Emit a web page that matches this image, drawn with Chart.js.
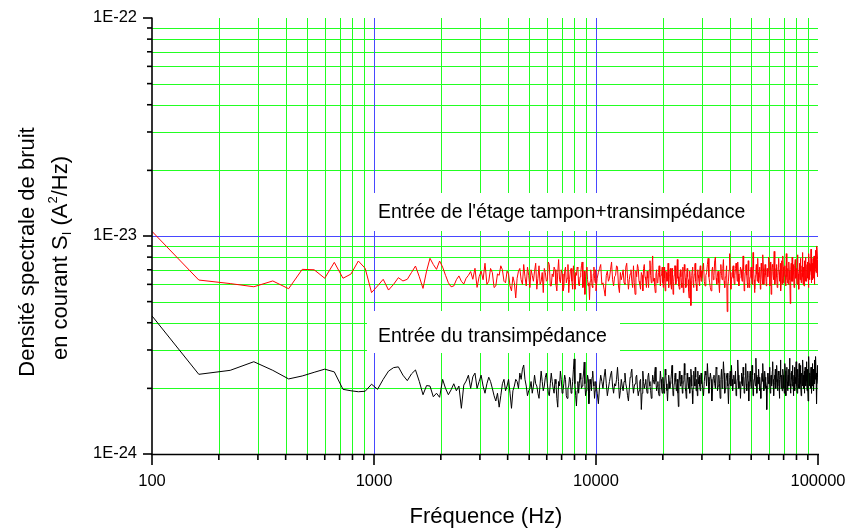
<!DOCTYPE html>
<html>
<head>
<meta charset="utf-8">
<script src="https://cdn.jsdelivr.net/npm/chart.js@4.4.1/dist/chart.umd.min.js"></script>
<style>
  html, body { margin: 0; padding: 0; background: #fff; }
  #c { display: block; }
</style>
</head>
<body>
<canvas id="c" width="849" height="529"></canvas>
<script>
// valeurs en unités de 1E-24 A²/Hz
const UNIT = 1e-24;
// grille de fréquence : 4 segments (début, pas en Hz)
const segStart = [100, 3037.5, 10000, 30000];
const segStep = [62.5, 62.5, 125, 250];

// Entrée de l'étage tampon+transimpédance (rouge)
const redA = [10.5, 6.28, 6.05, 5.85, 6.22, 5.73, 7.03, 7.0, 6.4, 7.57,
  6.4, 6.69, 7.68, 7.11, 5.5, 5.9, 6.33, 5.65, 6.0, 6.44,
  6.22, 6.33, 6.8, 7.28, 6.5, 5.75, 6.9, 7.9, 7.4, 7.03,
  7.68, 7.2, 6.6, 6.1, 5.85, 5.9, 6.3, 6.56, 6.2, 6.02,
  6.4, 6.6, 6.87, 6.33, 7.11, 5.81, 6.5];
const redB = [6.9, 6.3, 7.5, 6.0, 6.2, 7.1, 6.8, 5.8, 5.9, 6.7,
  6.6, 7.3, 7.0, 6.2, 6.1, 6.9, 6.7, 5.9, 5.6, 6.5,
  6.1, 5.2, 6.4, 6.9, 7.1, 6.3, 6.0, 7.4, 6.5, 5.9,
  7.2, 6.6, 5.8, 7.0, 6.6, 6.2, 6.9, 7.5, 5.7, 6.4,
  7.3, 6.0, 6.2, 6.8, 5.5, 7.1, 6.8, 6.2, 6.3, 7.6,
  7.4, 5.9, 5.9, 6.7, 6.5, 7.2, 7.0, 6.0, 5.6, 6.8,
  7.8, 6.3, 6.1, 7.0, 6.7, 5.6, 5.8, 6.9, 7.2, 6.1,
  6.4, 7.4, 5.5, 6.3, 6.9, 7.1, 6.2, 5.7, 7.3, 6.6,
  5.7, 6.8, 6.6, 7.2, 7.1, 6.0, 5.9, 6.5, 6.8, 7.3,
  7.6, 5.8, 6.0, 6.9, 5.4, 6.5, 6.9, 7.2, 6.3, 5.9,
  6.1, 5.1, 6.2, 7.0, 6.4, 5.9, 5.8, 6.7, 7.2, 6.4,
  6.1, 7.0];
const redC = [5.6, 6.4, 6.8, 7.1, 7.4, 6.0, 6.1, 5.7, 5.3, 6.6,
  6.9, 6.2, 6.4, 7.0, 7.6, 6.3, 5.9, 6.5, 6.6, 7.3,
  7.2, 5.9, 5.5, 6.8, 6.3, 6.6, 7.0, 6.1, 6.0, 7.2,
  7.5, 6.4, 5.7, 6.3, 6.7, 7.0, 6.2, 5.8, 7.3, 6.1,
  5.4, 6.9, 6.5, 7.4, 7.1, 6.2, 6.0, 5.7, 6.8, 6.6,
  5.6, 7.1, 7.4, 6.5, 6.3, 5.8, 6.9, 6.4, 5.8, 7.0,
  7.7, 6.6, 6.1, 7.3, 8.1, 6.2, 6.4, 5.9, 5.5, 6.7,
  7.0, 6.1, 6.2, 6.8, 7.3, 6.5, 5.9, 6.6, 6.7, 7.2,
  6.1, 5.8, 7.2, 6.4, 5.6, 6.9, 6.8, 6.2, 6.3, 7.5,
  5.8, 6.6, 6.9, 7.1, 6.0, 5.7, 7.1, 6.5, 5.4, 6.2,
  6.6, 7.3, 7.3, 6.0, 6.2, 6.9, 7.8, 6.4, 6.5, 5.9,
  5.7, 6.7, 7.0, 6.5, 6.1, 5.8, 6.8, 7.2, 5.5, 6.3,
  7.4, 6.9, 6.4, 5.8, 5.9, 6.7, 7.1, 6.5, 6.3, 5.6,
  5.2, 6.8, 6.9, 6.2, 4.8, 6.4, 6.6, 7.0, 7.2, 6.1,
  5.8, 6.3, 6.7, 7.4, 7.5, 6.2, 6.0, 5.7, 5.6, 6.8,
  7.0, 6.6, 6.4, 6.1, 5.9, 6.9, 7.3, 6.5, 6.2, 6.9];
const redD = [6.4, 7.0, 7.5, 6.2, 5.9, 6.6, 6.8, 7.4, 7.9, 6.5,
  6.1, 5.8, 5.6, 6.9, 7.2, 6.3, 6.6, 7.7, 8.0, 6.4,
  6.0, 6.7, 6.9, 6.1, 5.5, 6.8, 7.4, 6.6, 6.3, 7.1,
  7.8, 6.2, 5.8, 6.5, 6.7, 7.3, 4.5, 5.9, 6.2, 7.0,
  8.3, 6.8, 5.7, 6.3, 6.5, 7.1, 7.3, 6.4, 6.0, 6.6,
  7.1, 7.5, 6.9, 6.2, 7.6, 6.7, 5.9, 6.4, 6.6, 7.2,
  7.0, 6.5, 6.2, 6.9, 8.1, 7.0, 5.6, 6.1, 6.8, 7.3,
  7.4, 6.6, 6.1, 5.8, 7.7, 6.9, 5.8, 6.3, 6.5, 7.0,
  7.2, 6.4, 6.0, 6.7, 8.4, 7.1, 6.3, 5.5, 5.7, 6.6,
  7.0, 7.4, 6.7, 6.2, 7.9, 6.8, 6.1, 6.5, 6.9, 7.2,
  5.7, 6.3, 7.5, 6.9, 6.4, 6.0, 8.2, 7.1, 6.0, 6.5,
  6.8, 7.4, 7.3, 6.6, 5.9, 6.2, 7.1, 6.8, 6.5, 7.0,
  8.0, 6.9, 6.2, 5.9, 7.6, 7.0, 5.4, 6.3, 6.9, 7.4,
  7.2, 6.6, 6.3, 6.9, 8.5, 7.3, 6.0, 6.4, 6.7, 7.1,
  7.4, 6.5, 5.8, 6.2, 6.6, 7.2, 7.9, 6.8, 6.2, 6.6,
  7.0, 7.5, 5.6, 6.1, 7.7, 6.9, 6.4, 6.0, 8.1, 7.2,
  6.1, 6.5, 6.8, 7.0, 7.3, 6.6, 5.9, 6.3, 8.3, 7.4,
  6.5, 6.1, 7.1, 6.7, 6.0, 6.5, 7.6, 6.9, 6.3, 6.7,
  4.9, 6.3, 7.0, 7.5, 6.6, 6.2, 8.0, 7.1, 6.2, 6.7,
  7.4, 6.8, 5.8, 6.5, 6.9, 7.3, 7.8, 6.6, 6.4, 7.0,
  7.1, 6.5, 6.0, 6.4, 8.2, 7.2, 6.7, 6.1, 5.7, 6.8,
  7.5, 7.0, 6.3, 6.6, 7.9, 7.1, 6.1, 6.4, 6.8, 7.3,
  8.4, 7.0, 6.5, 6.0, 7.2, 6.8, 5.9, 6.6, 7.7, 7.1,
  6.6, 6.2, 8.0, 7.3, 6.2, 6.7, 7.0, 7.4, 6.4, 6.9,
  7.6, 6.8, 5.8, 6.5, 8.3, 7.5, 6.9, 6.3, 6.6, 7.1,
  7.4, 6.9, 8.7, 7.0, 6.1, 6.6, 7.1, 7.5, 6.6, 6.3,
  7.9, 7.2, 6.4, 6.8, 8.1, 7.3, 6.0, 6.7, 7.3, 7.6,
  8.6, 7.1, 6.8, 7.2, 7.5, 9.0, 7.0, 6.5, 7.2, 7.8,
  8.9];

// Entrée du transimpédance (noir)
const blackA = [4.3, 2.32, 2.42, 2.65, 2.42, 2.21, 2.28, 2.37, 2.45, 2.38,
  1.98, 1.95, 1.93, 1.94, 2.09, 1.98, 2.2, 2.4, 2.49, 2.51,
  2.3, 2.17, 2.33, 2.43, 2.15, 1.87, 2.06, 2.05, 1.83, 1.9,
  1.82, 2.2, 2.0, 1.87, 1.97, 2.1, 1.95, 2.05, 1.62, 2.07,
  2.16, 2.3, 2.0, 2.26, 2.35, 2.0, 2.15];
const blackB = [2.3, 2.05, 1.9, 2.1, 2.25, 2.15, 2.0, 1.85, 1.75, 1.9,
  1.64, 1.85, 2.1, 2.2, 1.95, 2.05, 2.2, 1.9, 1.62, 1.95,
  2.05, 2.2, 2.15, 2.0, 2.35, 2.2, 2.45, 2.56, 2.2, 2.05,
  1.85, 1.95, 2.0, 2.15, 1.9, 2.05, 2.3, 2.1, 2.05, 1.9,
  1.8, 2.1, 2.4, 2.15, 1.95, 2.05, 2.25, 2.35, 2.1, 1.9,
  1.85, 2.1, 2.35, 2.15, 2.0, 1.9, 2.2, 2.1, 1.8, 1.64,
  2.15, 2.05, 2.4, 2.2, 1.9, 1.95, 2.1, 2.3, 2.2, 1.85,
  1.8, 2.0, 2.05, 2.25, 2.2, 1.9, 1.95, 2.15, 2.45, 2.73,
  2.1, 1.85, 1.66, 1.95, 2.15, 1.9, 2.1, 2.35, 2.2, 2.0,
  2.05, 2.2, 2.35, 2.64, 2.1, 1.85, 1.95, 2.1, 2.3, 2.2,
  1.7, 1.9, 2.2, 2.1, 1.95, 2.25, 2.4, 2.15, 2.05, 1.8,
  1.95, 2.15];
const blackC = [2.1, 1.9, 1.7, 2.05, 2.3, 2.15, 2.0, 2.25, 2.45, 2.1,
  1.85, 2.0, 2.15, 2.3, 2.4, 2.05, 1.9, 2.1, 2.05, 2.2,
  2.5, 2.15, 1.8, 1.95, 2.2, 2.05, 1.95, 2.15, 2.35, 2.1,
  2.0, 1.85, 1.75, 2.0, 2.25, 2.35, 2.45, 2.1, 1.9, 2.05,
  2.1, 2.25, 2.3, 2.0, 1.85, 1.95, 2.15, 2.2, 1.6, 1.9,
  2.4, 2.15, 2.0, 2.1, 2.2, 2.0, 1.9, 2.25, 2.35, 2.15,
  2.05, 1.95, 1.8, 2.05, 2.3, 2.2, 2.1, 2.35, 2.5, 2.15,
  1.95, 2.05, 2.15, 1.9, 1.85, 2.1, 2.4, 2.2, 2.0, 1.9,
  2.25, 2.1, 1.9, 2.05, 2.45, 2.3, 2.1, 1.95, 1.75, 2.0,
  2.3, 2.15, 2.0, 2.1, 2.2, 2.35, 2.55, 2.1, 1.85, 1.95,
  2.1, 2.25, 2.35, 2.15, 1.95, 2.05, 2.2, 1.9, 1.65, 2.1,
  2.4, 2.2, 2.05, 2.15, 2.3, 2.1, 1.9, 2.0, 2.15, 2.2,
  2.6, 2.3, 2.0, 1.95, 1.8, 2.05, 2.35, 2.2, 2.1, 2.0,
  2.25, 2.15, 1.9, 2.2, 2.45, 2.3, 2.05, 1.95, 1.7, 2.0,
  2.3, 2.4, 2.15, 2.05, 2.5, 2.25, 1.95, 2.1, 2.2, 1.85,
  2.4, 2.15, 2.1, 2.25, 2.3, 2.05, 1.95, 2.2, 2.35, 2.1];
const blackD = [2.2, 2.0, 1.85, 2.15, 2.4, 2.3, 2.05, 2.6, 2.25, 1.9,
  2.15, 2.35, 2.2, 1.75, 2.0, 2.25, 2.3, 2.1, 2.0, 2.5,
  2.45, 1.95, 2.05, 2.3, 2.1, 1.8, 2.2, 2.45, 2.0, 2.2,
  2.65, 2.35, 1.9, 2.0, 2.15, 2.3, 2.35, 2.05, 1.7, 2.1,
  2.25, 2.4, 2.05, 2.55, 2.2, 1.95, 2.1, 2.3, 2.15, 2.1,
  2.4, 1.85, 2.0, 2.2, 2.7, 2.3, 2.0, 2.1, 2.15, 1.8,
  2.1, 2.35, 2.25, 2.05, 2.5, 2.3, 1.9, 2.0, 2.25, 2.6,
  2.1, 1.95, 2.25, 2.4, 2.15, 1.75, 2.05, 2.3, 2.4, 2.15,
  2.0, 2.2, 2.55, 2.3, 1.85, 2.05, 2.2, 2.35, 2.2, 2.05,
  2.75, 2.3, 1.9, 2.1, 2.25, 2.1, 2.45, 2.2, 1.95, 2.25,
  2.0, 1.8, 2.1, 2.3, 2.35, 2.15, 2.6, 2.2, 1.95, 2.05,
  2.4, 2.25, 2.0, 2.15, 2.05, 1.6, 2.0, 2.35, 2.3, 2.1,
  2.2, 2.35, 2.5, 2.1, 1.9, 2.25, 2.3, 2.05, 2.1, 2.4,
  2.65, 2.2, 2.0, 1.85, 2.1, 2.3, 2.2, 2.45, 2.0, 2.15,
  2.35, 2.55, 2.2, 1.95, 2.05, 2.4, 2.3, 2.1, 1.8, 2.2,
  2.4, 2.7, 2.25, 2.0, 2.1, 2.3, 1.95, 2.2, 2.45, 2.3,
  2.0, 2.25, 1.9, 2.15, 2.6, 2.4, 2.1, 1.85, 2.2, 2.35,
  2.5, 2.15, 1.95, 2.1, 2.3, 2.45, 2.05, 2.2, 2.75, 2.3,
  2.1, 1.9, 2.0, 2.35, 2.4, 2.2, 2.05, 2.55, 2.3, 2.1,
  1.85, 2.15, 2.3, 2.5, 2.2, 1.95, 2.25, 2.1, 2.4, 2.65,
  2.2, 2.05, 1.9, 2.3, 2.45, 2.35, 2.1, 2.0, 2.25, 2.6,
  2.15, 2.0, 2.3, 2.55, 2.4, 2.1, 1.85, 2.2, 2.35, 2.25,
  2.05, 2.45, 2.7, 2.3, 2.1, 2.0, 2.25, 2.4, 1.9, 2.15,
  2.5, 2.35, 2.2, 2.05, 2.3, 2.65, 2.15, 1.95, 2.3, 2.45,
  2.1, 1.75, 2.25, 2.4, 2.8, 2.3, 2.05, 2.2, 2.35, 2.15,
  2.0, 2.3, 2.5, 2.25, 2.1, 1.9, 2.35, 2.6, 2.2, 2.05,
  2.45, 2.3, 2.15, 1.95, 2.4, 2.7, 2.25, 2.1, 2.3, 2.5,
  2.2, 2.8, 2.35, 2.0, 2.15, 1.7, 2.3, 2.55, 2.4, 2.25,
  2.1];

const xTicks = [100, 1000, 10000, 100000];
const xTickLabels = ['100', '1000', '10000', '100000'];
const yTicks = [1e-24, 1e-23, 1e-22];
const yTickLabels = ['1E-24', '1E-23', '1E-22'];
const labelRed = "Entrée de l'étage tampon+transimpédance";
const labelBlack = 'Entrée du transimpédance';

const FONT = "'Liberation Sans', Arial, sans-serif";
const GREEN = '#22ff22';
const BLUE = '#4848ff';

function serie(parts) {
    const pts = [];
    parts.forEach((vals, s) => {
        vals.forEach((v, i) => pts.push({ x: segStart[s] + segStep[s] * i, y: v * UNIT }));
    });
    return pts;
}

function minors(majors) {
    const out = [];
    for (let i = 0; i < majors.length - 1; i++)
        for (let m = 2; m <= 9; m++) out.push(m * majors[i]);
    return out;
}
const xMinor = minors(xTicks);
const yMinor = minors(yTicks);

function seg(ctx, x1, y1, x2, y2) {
    ctx.beginPath(); ctx.moveTo(x1, y1); ctx.lineTo(x2, y2); ctx.stroke();
}

const decor = {
    id: 'decor',
    beforeDatasetsDraw(chart) {
        const { ctx, chartArea: a, scales: { x, y } } = chart;
        ctx.save();
        ctx.lineWidth = 1;
        ctx.strokeStyle = GREEN;
        xMinor.forEach(v => { const p = Math.round(x.getPixelForValue(v)) + 0.5; seg(ctx, p, a.top, p, a.bottom); });
        yMinor.forEach(v => { const p = Math.round(y.getPixelForValue(v)) + 0.5; seg(ctx, a.left, p, a.right, p); });
        ctx.strokeStyle = BLUE;
        xTicks.slice(1, -1).forEach(v => { const p = Math.round(x.getPixelForValue(v)) + 0.5; seg(ctx, p, a.top, p, a.bottom); });
        yTicks.slice(1, -1).forEach(v => { const p = Math.round(y.getPixelForValue(v)) + 0.5; seg(ctx, a.left, p, a.right, p); });

        // étiquettes sur fond blanc
        ctx.fillStyle = '#fff';
        ctx.fillRect(367, 193, 395, 38);
        ctx.fillRect(367, 311, 253, 42);
        ctx.fillStyle = '#000';
        ctx.font = '19.5px ' + FONT;
        ctx.textAlign = 'left';
        ctx.textBaseline = 'alphabetic';
        ctx.fillText(labelRed, 378, 218);
        ctx.fillText(labelBlack, 378, 342);
        ctx.restore();
    },
    afterDatasetsDraw(chart) {
        const { ctx, chartArea: a, scales: { x, y } } = chart;
        ctx.save();
        ctx.strokeStyle = '#000';
        ctx.lineWidth = 1.6;
        seg(ctx, a.left, a.top - 0.5, a.left, a.bottom + 1);
        seg(ctx, a.left - 1, a.bottom + 0.5, a.right + 1, a.bottom + 0.5);
        // graduations
        yTicks.forEach(v => { const p = y.getPixelForValue(v); seg(ctx, a.left - 9, p, a.left, p); });
        yMinor.forEach(v => { const p = y.getPixelForValue(v); seg(ctx, a.left - 5, p, a.left, p); });
        xTicks.forEach(v => { const p = x.getPixelForValue(v); seg(ctx, p, a.bottom, p, a.bottom + 11); });
        xMinor.forEach(v => { const p = x.getPixelForValue(v); seg(ctx, p, a.bottom, p, a.bottom + 6); });

        ctx.fillStyle = '#000';
        ctx.font = '16.5px ' + FONT;
        ctx.textAlign = 'right';
        ctx.textBaseline = 'middle';
        yTicks.forEach((v, i) => ctx.fillText(yTickLabels[i], a.left - 15, y.getPixelForValue(v) - 1));
        ctx.textAlign = 'center';
        xTicks.forEach((v, i) => ctx.fillText(xTickLabels[i], x.getPixelForValue(v), 481));

        // titres
        ctx.font = '22px ' + FONT;
        ctx.textBaseline = 'alphabetic';
        ctx.fillText('Fréquence (Hz)', 486, 523);

        ctx.save();
        ctx.translate(34, 252);
        ctx.rotate(-Math.PI / 2);
        ctx.fillText('Densité spectrale de bruit', 0, 0);
        ctx.restore();

        // en courant S_I (A²/Hz) avec indice et exposant
        ctx.save();
        ctx.translate(67, 258);
        ctx.rotate(-Math.PI / 2);
        const big = '22px ' + FONT, small = '13px ' + FONT;
        const parts = [
            { t: 'en courant S', f: big, dy: 0 },
            { t: 'I', f: small, dy: 4 },
            { t: ' (A', f: big, dy: 0 },
            { t: '2', f: small, dy: -10 },
            { t: '/Hz)', f: big, dy: 0 }
        ];
        let w = 0;
        parts.forEach(p => { ctx.font = p.f; p.w = ctx.measureText(p.t).width; w += p.w; });
        let cx = -w / 2;
        ctx.textAlign = 'left';
        parts.forEach(p => { ctx.font = p.f; ctx.fillText(p.t, cx, p.dy); cx += p.w; });
        ctx.restore();
        ctx.restore();
    }
};

new Chart(document.getElementById('c'), {
    type: 'line',
    data: {
        datasets: [
            { label: labelRed, data: serie([redA, redB, redC, redD]), borderColor: '#ff0000', borderWidth: 1, pointRadius: 0, tension: 0 },
            { label: labelBlack, data: serie([blackA, blackB, blackC, blackD]), borderColor: '#000000', borderWidth: 1, pointRadius: 0, tension: 0 }
        ]
    },
    options: {
        responsive: false,
        animation: false,
        layout: { padding: { left: 152, right: 31, top: 18, bottom: 75 } },
        plugins: { legend: { display: false }, tooltip: { enabled: false } },
        scales: {
            x: { type: 'logarithmic', min: 100, max: 100000, display: false },
            y: { type: 'logarithmic', min: 1e-24, max: 1e-22, display: false }
        }
    },
    plugins: [decor]
});
</script>
</body>
</html>
